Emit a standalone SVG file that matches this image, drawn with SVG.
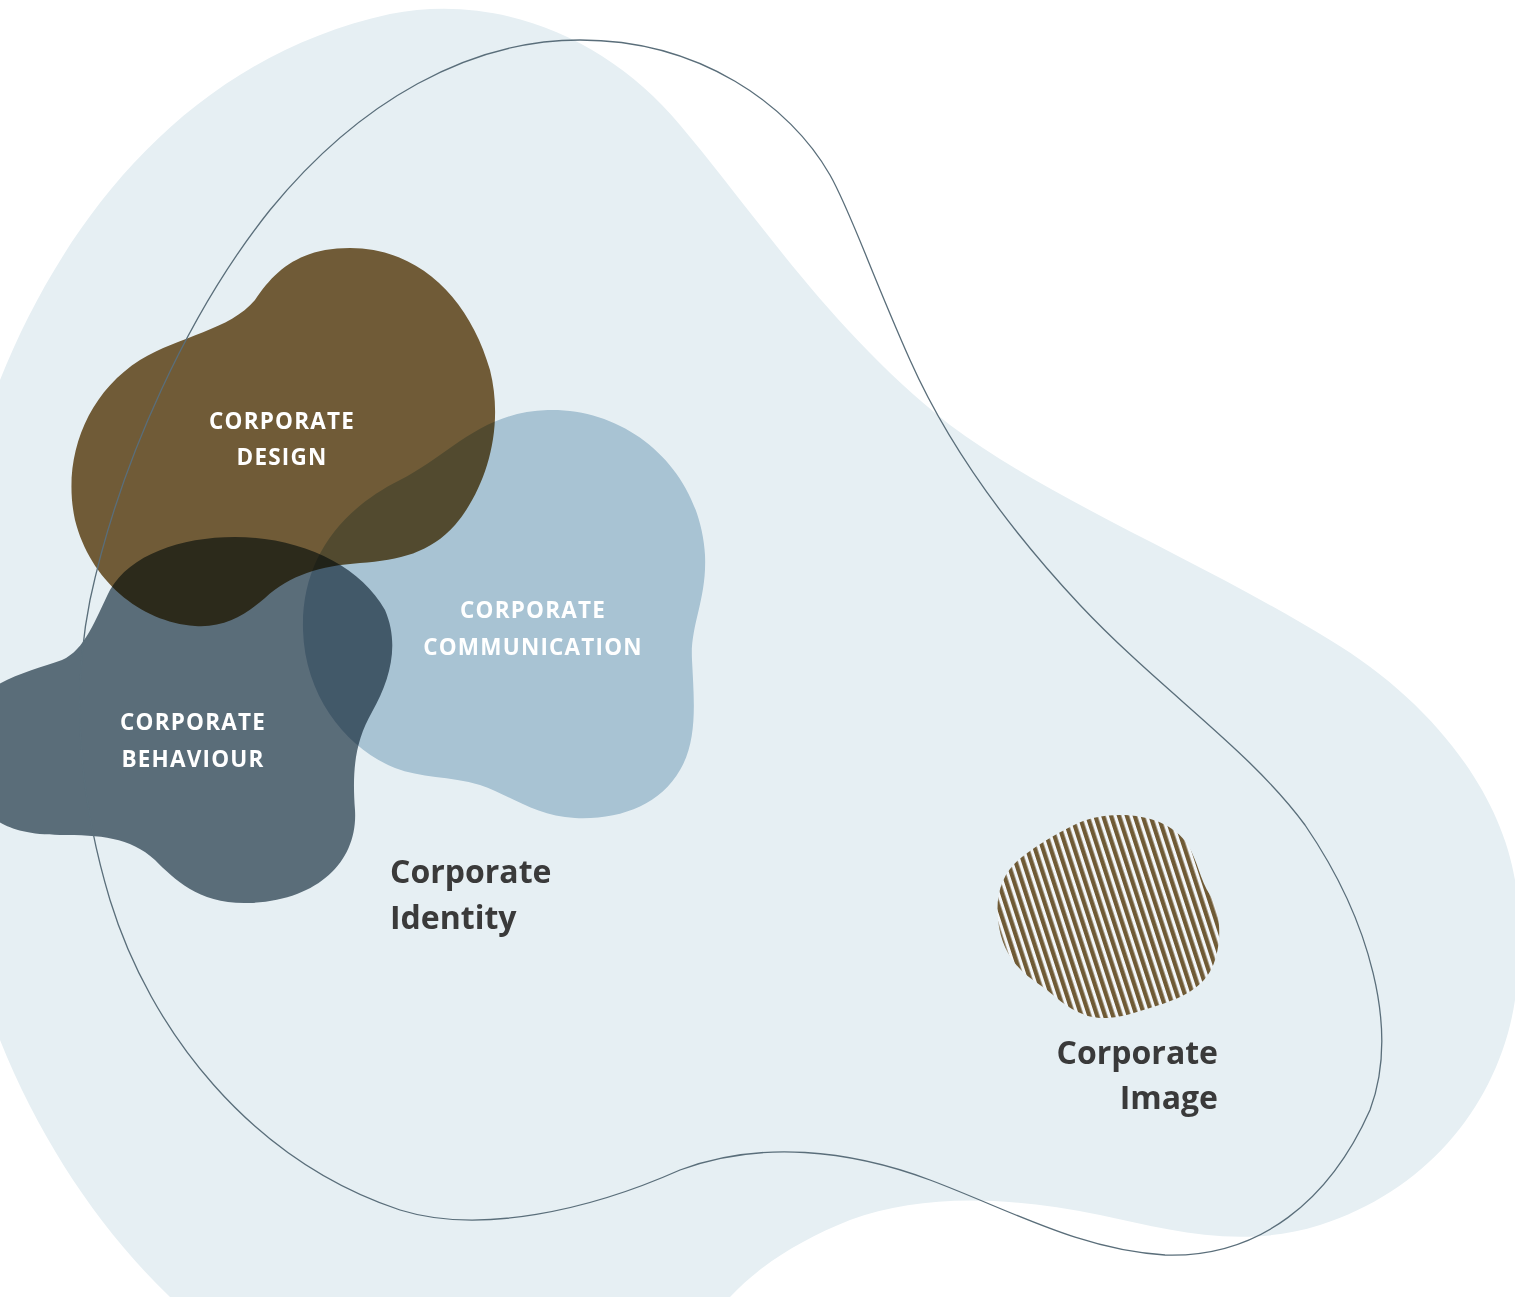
<svg xmlns="http://www.w3.org/2000/svg" width="1515" height="1297" viewBox="0 0 1515 1297">
<defs>
<pattern id="hatch" width="7.5" height="20" patternUnits="userSpaceOnUse" patternTransform="rotate(-18)">
<rect x="0" y="0" width="7.5" height="20" fill="#f3f6f8"/>
<rect x="0" y="0" width="4.3" height="20" fill="#6f5a35"/>
</pattern>
</defs>
<style>
.blob{mix-blend-mode:multiply}
.lbl{font-family:"Open Sans","Noto Sans",sans-serif;font-weight:700;font-size:22.5px;letter-spacing:1.2px;fill:#ffffff;text-anchor:middle}
.big{font-family:"Open Sans","Noto Sans",sans-serif;font-weight:700;font-size:32px;fill:#3a3a3a}
</style>
<rect width="1515" height="1297" fill="#ffffff"/>
<g id="background">
<path d="M0,380 C60,230 180,60 390,14 C500,-8 610,40 680,125 C760,220 830,330 950,425 C1050,500 1200,560 1330,640 C1430,700 1500,790 1515,880 L1515,1000 C1500,1100 1430,1190 1320,1225 C1240,1250 1170,1230 1100,1215 C1000,1195 920,1195 850,1220 C800,1240 760,1265 730,1297 L170,1297 C100,1230 40,1140 0,1040 Z" fill="#e6eff3"/>
</g>
<g id="communication">
<path class="blob" d="M548,410 C630,408 700,470 705,555 C707,600 690,625 692,660 C694,700 698,740 680,770 C660,805 620,820 575,818 C535,816 510,795 480,785 C450,776 420,778 395,768 C350,750 305,700 303,630 C301,560 340,510 400,480 C450,455 480,412 548,410 Z" fill="#bad0de"/>
</g>
<g id="behaviour">
<path class="blob" d="M235,537 C300,537 360,565 385,610 C400,645 390,680 372,712 C355,742 352,770 355,810 C358,860 320,900 250,903 C200,905 175,880 155,860 C130,837 100,835 60,835 C20,835 0,825 -10,815 L-10,690 C10,675 40,668 62,660 C85,650 95,620 110,590 C130,555 180,537 235,537 Z" fill="#64747f"/>
</g>
<g id="design">
<path class="blob" d="M350,248 C420,248 470,300 490,370 C505,430 485,490 455,525 C430,553 400,560 360,563 C320,566 290,575 265,598 C245,615 225,628 195,626 C140,622 90,580 75,520 C62,460 85,395 140,360 C180,336 230,330 255,300 C275,270 300,248 350,248 Z" fill="#7c6139"/>
</g>
<g id="connectors">
<path d="M580,40 C470,40 360,100 270,210 C190,310 120,460 90,600 C70,700 80,800 110,900 C150,1030 250,1160 400,1210 C480,1235 590,1210 680,1170 C760,1140 850,1150 930,1180 C1010,1210 1080,1250 1165,1255 C1260,1258 1330,1200 1370,1110 C1400,1030 1370,920 1305,825 C1250,750 1160,690 1080,605 C1010,530 950,450 910,360 C870,270 850,210 830,175 C790,105 700,40 580,40 Z" fill="none" stroke="#5a6e7a" stroke-width="1.3"/>
</g>
<g id="image-blob">
<path d="M1120,815 C1150,815 1175,825 1188,845 C1198,862 1200,880 1210,895 C1222,915 1222,945 1212,968 C1200,992 1175,1000 1150,1008 C1125,1016 1105,1022 1085,1015 C1065,1008 1055,995 1040,985 C1020,972 1002,955 998,920 C995,890 1005,870 1022,857 C1040,843 1055,835 1070,827 C1085,819 1100,815 1120,815 Z" fill="url(#hatch)"/>
</g>
<g id="labels">
<text class="lbl" x="282" y="429">CORPORATE</text>
<text class="lbl" x="282" y="465">DESIGN</text>
<text class="lbl" x="533" y="618">CORPORATE</text>
<text class="lbl" x="533" y="655">COMMUNICATION</text>
<text class="lbl" x="193" y="730">CORPORATE</text>
<text class="lbl" x="193" y="767">BEHAVIOUR</text>
<text class="big" x="390" y="883">Corporate</text>
<text class="big" x="390" y="929">Identity</text>
<text class="big" x="1218" y="1064" text-anchor="end">Corporate</text>
<text class="big" x="1218" y="1109" text-anchor="end">Image</text>
</g>
</svg>
